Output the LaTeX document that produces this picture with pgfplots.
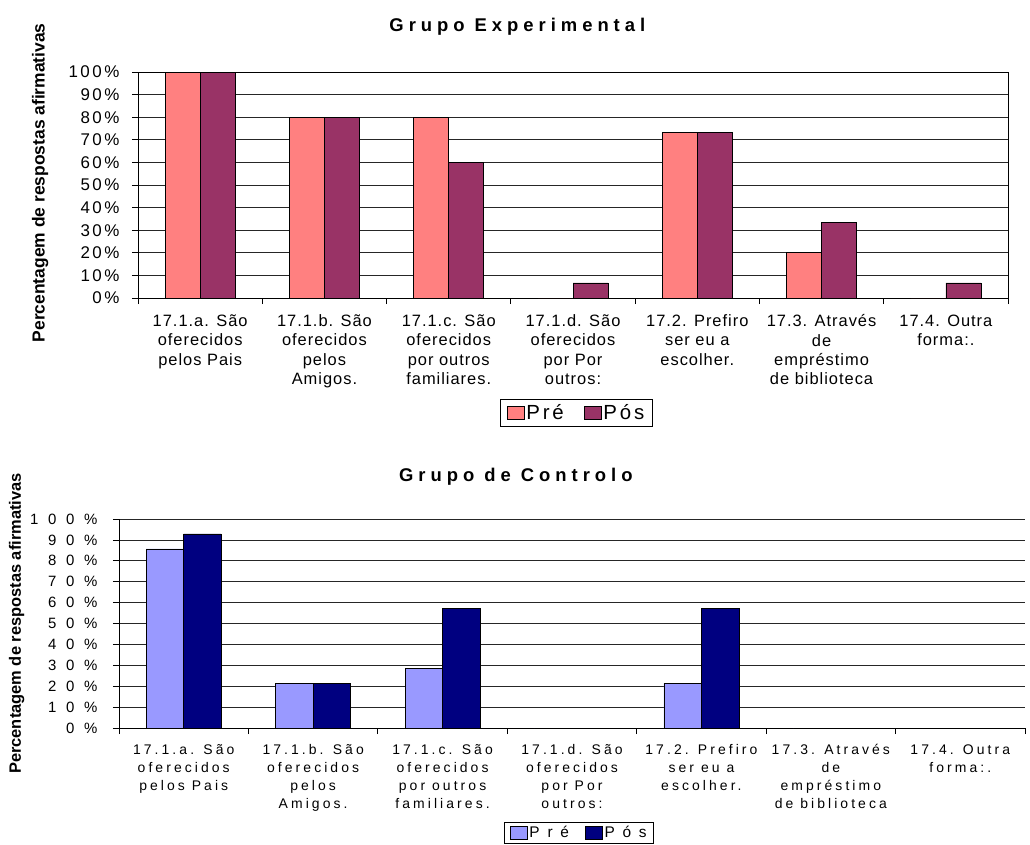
\documentclass[border=0pt]{standalone}
\usepackage{fontspec}
\setmainfont{Liberation Sans}
\usepackage{pgfplots}
\pgfplotsset{compat=1.18}
\newfontfamily\lsTitle[LetterSpace=27]{Liberation Sans}
\newfontfamily\lsTopY[LetterSpace=15]{Liberation Sans}
\newfontfamily\lsTopX[LetterSpace=6]{Liberation Sans}
\newfontfamily\lsTopL[LetterSpace=14]{Liberation Sans}
\newfontfamily\lsBotY[LetterSpace=65]{Liberation Sans}
\newfontfamily\lsBotX[LetterSpace=22]{Liberation Sans}
\newfontfamily\lsBotL[LetterSpace=50]{Liberation Sans}
\definecolor{tpre}{HTML}{FF8080}
\definecolor{tpos}{HTML}{993366}
\definecolor{bpre}{HTML}{9999FF}
\definecolor{bpos}{HTML}{000080}

\pgfplotsset{
  mybar/.style={
    scale only axis,
    xmin=-0.5, xmax=6.5, ymin=0, ymax=100,
    ybar=0pt,
    xtick={0,1,2,3,4,5,6},
    minor xtick={-0.5,0.5,1.5,2.5,3.5,4.5,5.5,6.5},
    ytick={0,10,20,30,40,50,60,70,80,90,100},
    yticklabels={0\%,10\%,20\%,30\%,40\%,50\%,60\%,70\%,80\%,90\%,100\%},
    tick align=outside,
    xtick pos=bottom, ytick pos=left,
    major x tick style={draw=none},
    minor tick length=6bp,
    major tick length=6bp,
    ymajorgrids,
    major grid style={black!85, line width=0.8bp},
    axis line style={black, line width=1bp},
    tick style={black, line width=0.8bp},
    every axis plot/.append style={draw=black, line width=0.7bp},
    legend columns=2,
    legend image code/.code={\draw[#1, draw=black, line width=0.7bp] (0bp,-6.5bp) rectangle (17bp,6.5bp);},
    xticklabel style={align=center, anchor=north},
    ylabel={Percentagem de respostas afirmativas},
  }
}

\begin{document}
\begin{tikzpicture}
\useasboundingbox (0,0) rectangle (1030bp,-845bp);

% ---------- Grupo Experimental ----------
\begin{axis}[mybar,
  at={(138bp,-298bp)}, anchor=south west,
  width=870bp, height=226bp,
  bar width=35bp,
  xticklabels={{17.1.a. São\\oferecidos\\pelos Pais},
               {17.1.b. São\\oferecidos\\pelos\\Amigos.},
               {17.1.c. São\\oferecidos\\por outros\\familiares.},
               {17.1.d. São\\oferecidos\\por Por\\outros:},
               {17.2. Prefiro\\ser eu a\\escolher.},
               {17.3. Através\\de\\empréstimo\\de biblioteca},
               {17.4. Outra\\forma:.}},
  xticklabel style={font=\lsTopX\fontsize{16.5}{19.5}\selectfont, yshift=-7bp},
  yticklabel style={font=\lsTopY\fontsize{17}{19}\selectfont, xshift=-9bp},
  title={Grupo Experimental},
  title style={font=\lsTitle\bfseries\fontsize{18.5}{20}\selectfont, at={(axis description cs:0.436,1)}, anchor=center, yshift=39bp},
  ylabel style={font=\bfseries\fontsize{17.5}{19}\selectfont, at={(axis description cs:-0.1126,0.51)}, anchor=center},
  legend style={at={(axis description cs:0.504,-0.509)}, anchor=center, draw=black, line width=0.8bp,
    font=\lsTopL\fontsize{20.5}{22}\selectfont, inner xsep=6bp, inner ysep=3.5bp,
    /tikz/every even column/.append style={column sep=18bp}},
]
\addplot[fill=tpre] coordinates {(0,100) (1,80) (2,80) (3,0) (4,73.33) (5,20) (6,0)};
\addplot[fill=tpos] coordinates {(0,100) (1,80) (2,60) (3,6.67) (4,73.33) (5,33.33) (6,6.67)};
\legend{Pré,Pós}
\end{axis}

% ---------- Grupo de Controlo ----------
\begin{axis}[mybar,
  at={(119bp,-728bp)}, anchor=south west,
  width=906bp, height=209bp,
  bar width=37.5bp,
  axis x line*=bottom, axis y line*=left,
  xticklabels={{17.1.a. São\\oferecidos\\pelos Pais},
               {17.1.b. São\\oferecidos\\pelos\\Amigos.},
               {17.1.c. São\\oferecidos\\por outros\\familiares.},
               {17.1.d. São\\oferecidos\\por Por\\outros:},
               {17.2. Prefiro\\ser eu a\\escolher.},
               {17.3. Através\\de\\empréstimo\\de biblioteca},
               {17.4. Outra\\forma:.}},
  xticklabel style={font=\lsBotX\fontsize{14}{18}\selectfont, yshift=-7bp},
  yticklabel style={font=\lsBotY\fontsize{15}{17}\selectfont, xshift=-12bp},
  title={Grupo de Controlo},
  title style={font=\lsTitle\bfseries\fontsize{18.5}{20}\selectfont, at={(axis description cs:0.438,1)}, anchor=center, yshift=36bp},
  ylabel style={font=\bfseries\fontsize{16.5}{18}\selectfont, at={(axis description cs:-0.113,0.5)}, anchor=center},
  legend style={at={(axis description cs:0.508,-0.502)}, anchor=center, draw=black, line width=0.8bp,
    font=\lsBotL\fontsize{15.5}{17}\selectfont, inner xsep=5bp, inner ysep=2.5bp,
    /tikz/every even column/.append style={column sep=14bp}},
]
\addplot[fill=bpre] coordinates {(0,85.71) (1,21.43) (2,28.57) (3,0) (4,21.43) (5,0) (6,0)};
\addplot[fill=bpos] coordinates {(0,92.86) (1,21.43) (2,57.14) (3,0) (4,57.14) (5,0) (6,0)};
\legend{Pré,Pós}
\end{axis}
\end{tikzpicture}
\end{document}
